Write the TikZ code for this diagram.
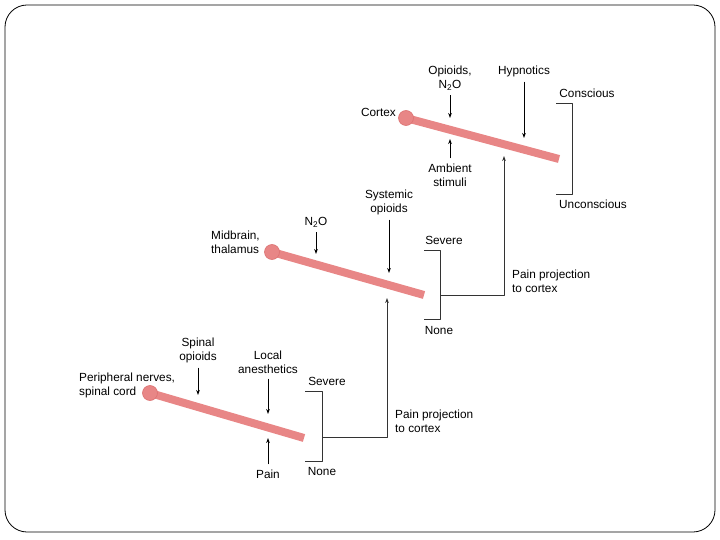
\documentclass[tikz,border=0pt]{standalone}
\usepackage{fontspec}
\setmainfont{Liberation Sans}
\usetikzlibrary{arrows.meta,positioning}
\definecolor{nerve}{HTML}{E88686}
\definecolor{nerveedge}{HTML}{DC7272}
\tikzset{pathway/.style={
  x=1pt,y=-1pt,
  >={Stealth[length=5pt,width=3.6pt]},line join=round
},
  txt/.style={font=\fontsize{11.8}{14}\selectfont,inner sep=1pt,align=center},
  drug/.style={->,line width=0.75pt,shorten <=4pt},
  bar/.style={line width=8pt,nerve},
  knob/.style={fill=nerve,draw=nerveedge,line width=0.6pt},
  brace/.style={line width=0.8pt,black!80},
  relay/.style={->,line width=0.8pt,black!80}
}

\begin{document}
\begin{tikzpicture}[pathway]
  \useasboundingbox (0,0) rectangle (720,540);
  \draw[line width=0.8pt,rounded corners=22pt] (5,5) rectangle (715,532);
  % cortex
  \coordinate (cortexBall) at (406,118);
  \coordinate (cortexEnd) at (559,159);
  \draw[bar] (cortexBall)--(cortexEnd);
  \fill[knob] (cortexBall) circle (7.5);
  \node[txt,anchor=east] (cortex) at (397,112) {Cortex};
  \node[txt] (opioids) at (450,78) {Opioids,\\N\textsubscript{2}O};
  \node[txt] (hypnotics) at (524,71) {Hypnotics};
  \node[txt] (ambient) at (450,175) {Ambient\\stimuli};
  \coordinate (opioidsTip) at (450,118);
  \coordinate (hypnoticsTip) at (524,138);
  \coordinate (ambientTip) at (450,139);
  \draw[drug] (opioids)--(opioidsTip);
  \draw[drug] (hypnotics)--(hypnoticsTip);
  \draw[drug] (ambient)--(ambientTip);
  \node[txt] (conscious) at (587,93) {Conscious};
  \node[txt] (unconscious) at (593,204) {Unconscious};
  \coordinate (cortexTop) at (556,103);
  \coordinate (cortexBottom) at (556,194);
  \draw[brace] (cortexTop) -- ++(16,0) |- (cortexBottom);
  % midbrain
  \coordinate (midBall) at (272,252);
  \coordinate (midEnd) at (424,295);
  \draw[bar] (midBall)--(midEnd);
  \fill[knob] (midBall) circle (7.5);
  \node[txt,align=left,anchor=west] (midbrain) at (210,242) {Midbrain,\\thalamus};
  \node[txt] (nitrous) at (316,222) {N\textsubscript{2}O};
  \node[txt] (systemic) at (389,202) {Systemic\\opioids};
  \coordinate (nitrousTip) at (316,254);
  \coordinate (systemicTip) at (389,273);
  \draw[drug] (nitrous)--(nitrousTip);
  \draw[drug] (systemic)--(systemicTip);
  \node[txt] (midSevere) at (444,240) {Severe};
  \node[txt] (midNone) at (439,330) {None};
  \coordinate (midTop) at (424,250);
  \coordinate (midBottom) at (424,319);
  \draw[brace] (midTop) -- ++(16,0) |- (midBottom);
  \coordinate (midOut) at (440,295);
  \coordinate (cortexIn) at (504,156);
  \draw[relay] (midOut) -| (cortexIn);
  \node[txt,align=left,anchor=west] (upperProjection) at (511,281) {Pain projection\\to cortex};
  % spinal cord
  \coordinate (cordBall) at (150,393);
  \coordinate (cordEnd) at (304,438);
  \draw[bar] (cordBall)--(cordEnd);
  \fill[knob] (cordBall) circle (7.5);
  \node[txt,align=left,anchor=west] (peripheral) at (78,385) {Peripheral nerves,\\spinal cord};
  \node[txt] (spinal) at (198,350) {Spinal\\opioids};
  \node[txt] (local) at (268,362) {Local\\anesthetics};
  \node[txt] (pain) at (268,474) {Pain};
  \coordinate (spinalTip) at (198,395);
  \coordinate (localTip) at (268,414);
  \coordinate (painTip) at (268,438);
  \draw[drug] (spinal)--(spinalTip);
  \draw[drug] (local)--(localTip);
  \draw[drug] (pain)--(painTip);
  \node[txt] (cordSevere) at (327,381) {Severe};
  \node[txt] (cordNone) at (322,471) {None};
  \coordinate (cordTop) at (305,391);
  \coordinate (cordBottom) at (305,461);
  \draw[brace] (cordTop) -- ++(17,0) |- (cordBottom);
  \coordinate (cordOut) at (322,437);
  \coordinate (midIn) at (387,298);
  \draw[relay] (cordOut) -| (midIn);
  \node[txt,align=left,anchor=west] (lowerProjection) at (394,421) {Pain projection\\to cortex};
\end{tikzpicture}
\end{document}
